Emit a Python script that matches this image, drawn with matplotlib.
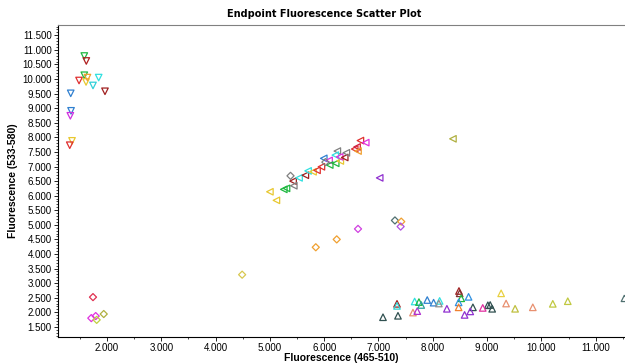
import matplotlib.pyplot as plt
from matplotlib.ticker import FuncFormatter, MultipleLocator

plt.rcParams['font.family'] = ['Liberation Sans', 'DejaVu Sans']

# ----------------------------------------------------
# Data (fluorescence units)
# ----------------------------------------------------

# down triangles, upper left group
down_x = [1582, 1619, 1582, 1485, 1614, 1640, 1742, 1847, 1963, 1332, 1338, 1325, 1356, 1314]
down_y = [10790, 10620, 10130, 9950, 9900, 10050, 9780, 10050, 9580, 9510, 8910, 8740, 7880, 7730]
down_c = ['#20b840', '#b02020', '#20b840', '#e03030', '#e8c830', '#f0a030', '#30d0d8', '#30e0e0',
          '#a02020', '#3080d0', '#3080d0', '#d030e0', '#e8c830', '#e03030']

# left triangles, diagonal group
left_x = [5000, 5120, 5256, 5306, 5427, 5440, 5537, 5653, 5703, 5795, 5868, 5949, 5992, 6090,
          6102, 6212, 6242, 6205, 6297, 6285, 6378, 6408, 6562, 6605, 6623, 6667, 6765, 7022, 8371]
left_y = [6134, 5840, 6216, 6250, 6500, 6340, 6610, 6700, 6850, 6820, 6870, 6990, 7280, 7210,
          7050, 7110, 7530, 7390, 7190, 7330, 7310, 7470, 7600, 7670, 7530, 7890, 7820, 6610, 7950]
left_c = ['#e8c830', '#e8c830', '#20b840', '#20b840', '#a02020', '#808080', '#30e0e0', '#a02020',
          '#30e0e0', '#e8c830', '#e03030', '#e03030', '#3080d0', '#e030e0', '#20b840', '#20b840',
          '#808080', '#30e0e0', '#e8c830', '#e030e0', '#a02020', '#808080', '#e03030', '#d02040',
          '#f0a030', '#e03030', '#e030e0', '#9030d0', '#b0b040']

# diamonds, scattered
diam_x = [1742, 1711, 1792, 1810, 1940, 4489, 5845, 6231, 6623, 7303, 7419, 7408, 5380, 6022]
diam_y = [2520, 1800, 1870, 1740, 1940, 3290, 4230, 4500, 4860, 5150, 5110, 4940, 6680, 7150]
diam_c = ['#e03050', '#e030e0', '#e030e0', '#c0d040', '#b0b040', '#d8c850', '#f0a030', '#f0a030',
          '#d040e0', '#507070', '#f0a030', '#b050e0', '#808080', '#808080']

# up triangles, lower right group
up_x = [7083, 7359, 7341, 7341, 7635, 7714, 7666, 7745, 7787, 7898, 8015, 8126, 8112, 8260,
        8482, 8495, 8524, 8659, 8476, 8476, 8739, 8586, 8690, 9014, 9057, 9094, 8920, 9259,
        9350, 9516, 9842, 10210, 10486, 11530]
up_y = [1830, 1880, 2290, 2220, 1990, 2040, 2370, 2350, 2250, 2420, 2330, 2390, 2300, 2120,
        2730, 2650, 2480, 2530, 2340, 2170, 2170, 1910, 2030, 2240, 2250, 2120, 2150, 2650,
        2300, 2120, 2170, 2290, 2380, 2480]
up_c = ['#305050', '#305050', '#a02020', '#30d0d0', '#e89070', '#b030d0', '#30e0e0', '#20b840',
        '#30a0a0', '#3080d0', '#3080d0', '#30e0e0', '#909090', '#9030d0', '#a02020', '#803030',
        '#20b840', '#3090e0', '#3090e0', '#f08030', '#305050', '#9030d0', '#9030d0', '#305050',
        '#305050', '#305050', '#e030a0', '#e8d040', '#e89070', '#c0c040', '#e89070', '#c0c840',
        '#c0c840', '#507070']

# ----------------------------------------------------
# Plot
# ----------------------------------------------------
fig = plt.figure(figsize=(6.25, 3.64), dpi=100)
ax = fig.add_axes([0.093, 0.074, 0.907, 0.857])

ms = 22
lw = 0.9
ax.scatter(down_x, down_y, s=ms, marker='v', facecolors='none', edgecolors=down_c, linewidths=lw)
ax.scatter(left_x, left_y, s=ms, marker='<', facecolors='none', edgecolors=left_c, linewidths=lw)
ax.scatter(diam_x, diam_y, s=13, marker='D', facecolors='none', edgecolors=diam_c, linewidths=lw)
ax.scatter(up_x, up_y, s=ms, marker='^', facecolors='none', edgecolors=up_c, linewidths=lw)

ax.set_xlim(1100, 11540)
ax.set_ylim(1150, 11850)

# 1000 -> "1.000" style labels
fmt = FuncFormatter(lambda v, p: f'{v / 1000:.3f}')
ax.xaxis.set_major_locator(MultipleLocator(1000))
ax.xaxis.set_minor_locator(MultipleLocator(500))
ax.yaxis.set_major_locator(MultipleLocator(500))
ax.yaxis.set_minor_locator(MultipleLocator(100))
ax.xaxis.set_major_formatter(fmt)
ax.yaxis.set_major_formatter(fmt)
ax.tick_params(axis='both', which='major', labelsize=7, length=3, width=0.6, pad=1.5)
ax.tick_params(axis='both', which='minor', length=1.5, width=0.5)

ax.spines['right'].set_visible(False)
ax.spines['top'].set_color('#808080')
for s in ['left', 'bottom', 'top']:
    ax.spines[s].set_linewidth(0.8)

fig.text(0.518, 0.962, 'Endpoint Fluorescence Scatter Plot', fontsize=7, fontweight='bold',
         family='DejaVu Sans', ha='center', va='center')
ax.set_xlabel('Fluorescence (465-510)', fontsize=7.5, fontweight='bold', labelpad=0)
ax.set_ylabel('Fluorescence (533-580)', fontsize=7.5, fontweight='bold', labelpad=3)

fig.savefig('out.png', dpi=100)
